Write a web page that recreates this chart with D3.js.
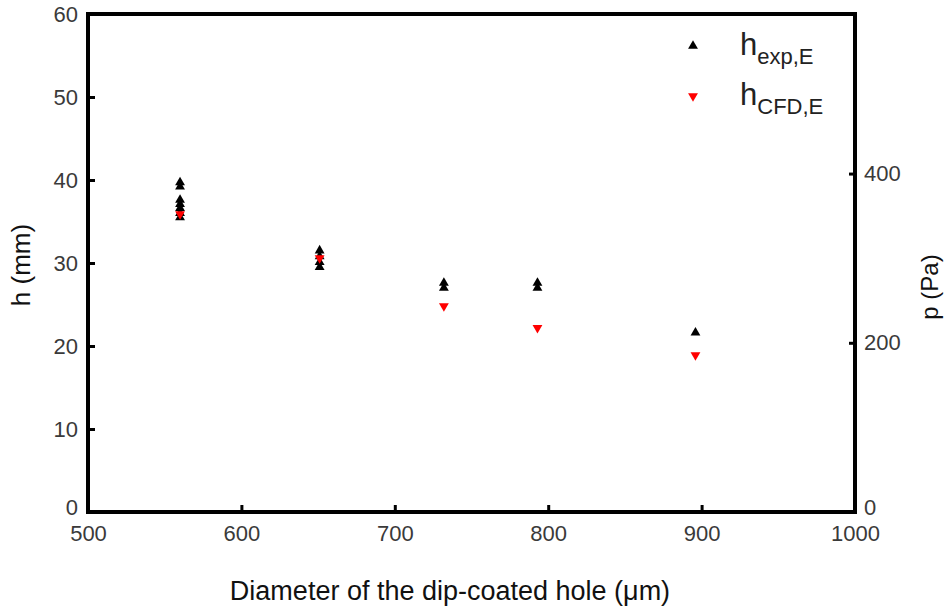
<!DOCTYPE html>
<html>
<head>
<meta charset="utf-8">
<script src="https://cdn.jsdelivr.net/npm/d3@7"></script>
<style>
  body { margin: 0; background: #fff; }
  svg { font-family: "Liberation Sans", Arial, sans-serif; }
</style>
</head>
<body>
<div id="paper"></div>
<script>
// measured h (mm) vs diameter of the hole (um)
const expD = [560, 560, 560, 560, 560, 560, 560, 651, 651, 651, 651, 732, 732, 793, 793, 896];
const expH = [39.7, 39.2, 37.6, 37.1, 36.6, 36.0, 35.5, 31.5, 30.8, 30.1, 29.5, 27.6, 27.0, 27.6, 27.0, 21.6];
const cfdD = [560, 651, 732, 793, 896];
const cfdH = [35.9, 30.6, 24.8, 22.2, 18.9];
const xTicks = [500, 600, 700, 800, 900, 1000];
const yTicks = [0, 10, 20, 30, 40, 50, 60];
const pTicks = [0, 200, 400];

const width = 945, height = 608;
const mLeft = 88, mRight = 855, mTop = 14, mBottom = 512;

const x = d3.scaleLinear().domain([500, 1000]).range([mLeft, mRight]);
const y = d3.scaleLinear().domain([0, 60]).range([mBottom, mTop]);
// p = rho g h, rho = 1000, g = 9.81
const yp = d3.scaleLinear().domain([0, 1000 * 9.81 * 0.06]).range([mBottom, mTop]);

const svg = d3.create("svg")
  .attr("width", width)
  .attr("height", height);

const tickColor = "#3a3a3a";

// ticks point inside the frame
const gx = svg.append("g").attr("transform", `translate(0,${mBottom})`)
  .call(d3.axisBottom(x).tickValues(xTicks).tickFormat(d3.format("d"))
    .tickSize(-7).tickPadding(13).tickSizeOuter(0));

const gy = svg.append("g").attr("transform", `translate(${mLeft},0)`)
  .call(d3.axisLeft(y).tickValues(yTicks).tickSize(-7).tickPadding(10).tickSizeOuter(0));

const gp = svg.append("g").attr("transform", `translate(${mRight},0)`)
  .call(d3.axisRight(yp).tickValues(pTicks).tickSize(-6).tickPadding(9).tickSizeOuter(0));

[gx, gy, gp].forEach(g => {
  g.select(".domain").remove();
  g.selectAll("line").attr("stroke", "#000").attr("stroke-width", 3);
  g.selectAll("text").attr("font-size", 22).attr("fill", tickColor)
    .attr("font-family", "Liberation Sans, Arial, sans-serif");
});
gx.selectAll(".tick").filter(d => d === 500 || d === 1000).select("line").remove();
gy.selectAll(".tick").filter(d => d === 0 || d === 60).select("line").remove();
gp.selectAll(".tick").filter(d => d === 0).select("line").remove();
// the two zero labels sit a little above the bottom line
gy.selectAll("text").filter(d => d === 0).attr("dy", "0.12em");
gp.selectAll("text").filter(d => d === 0).attr("dy", "0.12em");

// frame
svg.append("rect")
  .attr("x", mLeft).attr("y", mTop)
  .attr("width", mRight - mLeft).attr("height", mBottom - mTop)
  .attr("fill", "none").attr("stroke", "#000").attr("stroke-width", 4);

const tri = d3.symbol().type(d3.symbolTriangle).size(42);

svg.append("g").selectAll("path")
  .data(expD.map((d, i) => [d, expH[i]]))
  .join("path")
  .attr("d", tri)
  .attr("transform", d => `translate(${x(d[0])},${y(d[1])})`)
  .attr("fill", "#000");

svg.append("g").selectAll("path")
  .data(cfdD.map((d, i) => [d, cfdH[i]]))
  .join("path")
  .attr("d", tri)
  .attr("transform", d => `translate(${x(d[0])},${y(d[1])}) rotate(180)`)
  .attr("fill", "#ff0000");

// legend
const legend = [
  {sub: "exp,E", color: "#000", rot: 0, y: 46},
  {sub: "CFD,E", color: "#ff0000", rot: 180, y: 96}
];
legend.forEach(l => {
  svg.append("path").attr("d", tri)
    .attr("transform", `translate(693,${l.y}) rotate(${l.rot})`)
    .attr("fill", l.color);
  const t = svg.append("text").attr("x", 740).attr("y", l.y + 9)
    .attr("font-size", 31).attr("fill", "#222");
  t.append("tspan").text("h");
  t.append("tspan").attr("dy", 9).attr("font-size", 22).text(l.sub);
});

// axis titles
svg.append("text")
  .attr("transform", `translate(30,265) rotate(-90)`)
  .attr("text-anchor", "middle").attr("font-size", 26).attr("fill", "#111")
  .text("h (mm)");

svg.append("text")
  .attr("transform", `translate(938,287) rotate(-90)`)
  .attr("text-anchor", "middle").attr("font-size", 24).attr("fill", "#111")
  .text("p (Pa)");

svg.append("text")
  .attr("x", 450).attr("y", 600)
  .attr("text-anchor", "middle").attr("font-size", 27).attr("fill", "#111")
  .text("Diameter of the dip-coated hole (μm)");

paper.replaceChildren(svg.node());
</script>
</body>
</html>
